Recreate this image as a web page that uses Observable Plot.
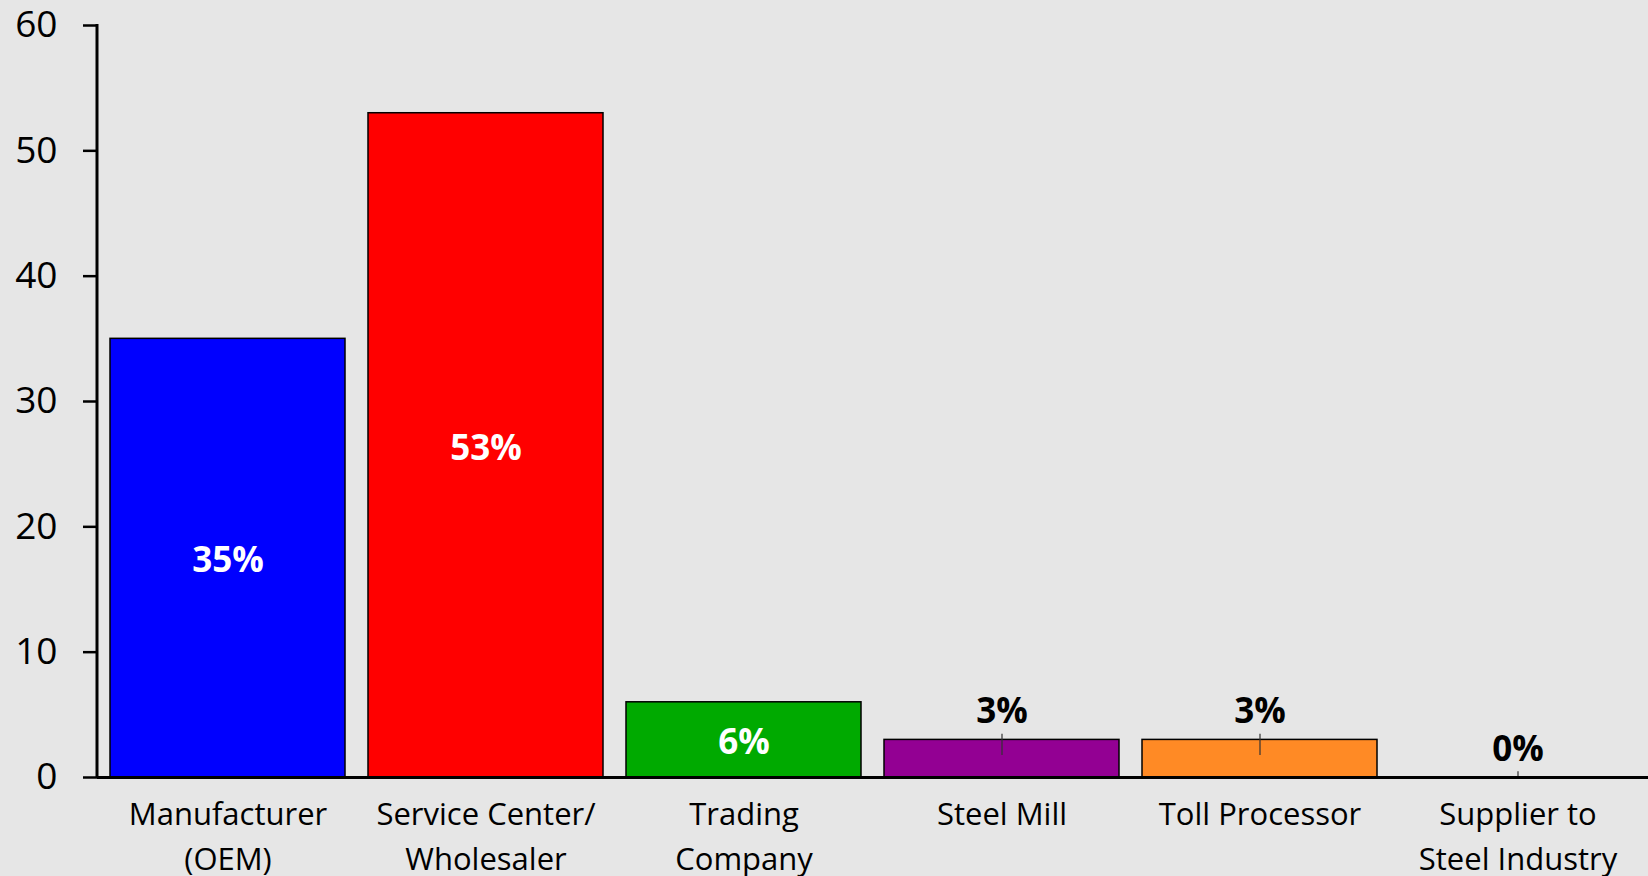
<!DOCTYPE html>
<html>
<head>
<meta charset="utf-8">
<script src="https://cdn.jsdelivr.net/npm/d3@7"></script>
<script src="https://cdn.jsdelivr.net/npm/@observablehq/plot@0.6"></script>
<style>
  html, body { margin: 0; padding: 0; background: #e6e6e6; }
  #chart { width: 1648px; height: 876px; overflow: hidden; }
</style>
</head>
<body>
<div id="chart"></div>
<script>
const categories = ["Manufacturer\n(OEM)", "Service Center/\nWholesaler", "Trading\nCompany", "Steel Mill", "Toll Processor", "Supplier to\nSteel Industry"];
const values = [35, 53, 6, 3, 3, 0];
const colors = ["#0000ff", "#ff0000", "#00aa00", "#930093", "#ff8a25", "#cccccc"];
const labels = ["35%", "53%", "6%", "3%", "3%", "0%"];
const yTicks = [0, 10, 20, 30, 40, 50, 60];

const data = categories.map((c, i) => ({cat: c, value: values[i], color: colors[i], label: labels[i]}));
const inside = data.filter(d => d.value >= 5);
const above = data.filter(d => d.value < 5);

// y axis line drawn from the plot's own y scale
function yAxisLine(index, scales, values, dims) {
  const line = document.createElementNS("http://www.w3.org/2000/svg", "line");
  line.setAttribute("x1", dims.marginLeft);
  line.setAttribute("x2", dims.marginLeft);
  line.setAttribute("y1", scales.y(yTicks[yTicks.length - 1]) - 1);
  line.setAttribute("y2", scales.y(0));
  line.setAttribute("stroke", "#000");
  line.setAttribute("stroke-width", 3);
  return line;
}

const chart = Plot.plot({
  width: 1648,
  height: 876,
  marginTop: 25,
  marginBottom: 99,
  marginLeft: 97,
  marginRight: 0,
  style: {background: "#e6e6e6", fontFamily: "'Open Sans', sans-serif", color: "#000"},
  x: {domain: categories, paddingInner: 0.09, paddingOuter: 0.045, label: null},
  y: {domain: [0, 60], label: null},
  marks: [
    Plot.barY(data.filter(d => d.value > 0), {x: "cat", y: "value", fill: "color", stroke: "#000", strokeWidth: 1.5}),
    Plot.ruleX(above, {x: "cat", y1: d => Math.max(0, d.value - 1.25), y2: d => d.value + 0.45, stroke: "#333", strokeWidth: 1.2}),
    Plot.text(inside, {x: "cat", y: d => d.value / 2, text: "label", fill: "#fff", fontSize: 35, fontWeight: "bold", dy: 3}),
    Plot.text(above, {x: "cat", y: "value", text: "label", fill: "#000", fontSize: 35, fontWeight: "bold", dy: -28}),
    Plot.axisY({ticks: yTicks, tickSize: 14, tickPadding: 26, fontSize: 37, label: null, stroke: "#000", strokeWidth: 2.5, fill: "#000"}),
    yAxisLine,
    Plot.axisX({tickSize: 0, tickPadding: 16, fontSize: 31, lineHeight: 1.45, label: null, fill: "#000"}),
    Plot.ruleY([0], {stroke: "#000", strokeWidth: 3}),
  ]
});
document.getElementById("chart").appendChild(chart);
</script>
</body>
</html>
